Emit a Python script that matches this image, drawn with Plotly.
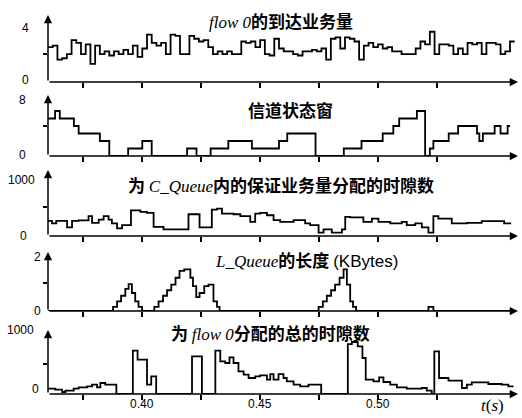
import plotly.graph_objects as go

W, H = 522, 418
X0, X1 = 0.36, 0.5594

# ---------------- data ----------------
# panel 1: flow 0 arrivals, uniform slots of 0.002 s starting at 0.360
arr_start = 0.360
arr_slot = 0.002
arrival = [2.5, 2.6, 1.6, 1.7, 2.0, 3.0, 2.8, 2.0, 2.7, 1.3, 2.6, 2.0, 2.2, 1.9, 2.2, 2.0, 2.3,
           2.0, 2.6, 1.8, 2.4, 3.4, 2.8, 2.6, 2.8, 2.0, 3.4, 3.3, 2.0, 2.0, 3.3, 3.1, 2.9, 3.0,
           2.5, 2.0, 2.2, 2.0, 2.2, 2.0, 2.0, 2.9, 2.8, 2.9, 2.5, 3.0, 2.0, 1.9, 3.1, 2.4,
           2.2, 2.2, 2.0, 1.9, 2.2, 2.2, 2.3, 2.2, 2.4, 1.6, 3.1, 3.2, 2.4, 3.2, 3.1, 2.9, 1.6,
           2.6, 2.8, 2.5, 2.7, 2.4, 2.5, 2.2, 2.2, 2.0, 2.0, 2.0, 2.4, 2.9, 2.7, 3.6, 2.0, 2.7,
           2.7, 2.6, 2.0, 2.4, 2.0, 2.8, 2.7, 2.8, 2.0, 2.8, 2.8, 2.7, 2.0, 2.2, 2.9]

# panel 2: channel state window (step start times, last entry = end time)
chan_t = [0.360, 0.363, 0.365, 0.371, 0.373, 0.382, 0.386, 0.394, 0.400, 0.404,
          0.419, 0.423, 0.429, 0.4365, 0.4465, 0.458, 0.4615, 0.4735, 0.4855, 0.493,
          0.502, 0.5065, 0.509, 0.5165, 0.520, 0.522, 0.5235, 0.530, 0.534, 0.542,
          0.543, 0.5445, 0.5495, 0.552, 0.555, 0.556]
chan_v = [5, 6, 5, 4, 3, 2, 0, 1, 2, 0,
          1, 0, 1, 2, 1, 2, 3, 0, 1, 2,
          3, 4, 5, 6, 0, 1, 2, 3, 4, 3,
          2, 3, 4, 3, 4]

# panel 3: slots allocated to guaranteed traffic in C_Queue
cq_t = [0.360, 0.3617, 0.3635, 0.3681, 0.3702, 0.373, 0.3772, 0.3787, 0.3815, 0.3836,
        0.3857, 0.3871, 0.3893, 0.3914, 0.3952, 0.3992, 0.4020, 0.4048, 0.4090, 0.4196,
        0.4243, 0.4295, 0.4317, 0.4338, 0.4387, 0.4416, 0.4458, 0.4479, 0.4500, 0.4529,
        0.4557, 0.4585, 0.4642, 0.4691, 0.4712, 0.4748, 0.4769, 0.4804, 0.4847, 0.4861,
        0.4882, 0.4938, 0.4974, 0.5002, 0.5052, 0.5101, 0.5122, 0.5158, 0.5186, 0.5214,
        0.5235, 0.5256, 0.5313, 0.5377, 0.5440, 0.5535, 0.5565]
cq_v = [261, 216, 261, 148, 261, 270, 341, 227, 284, 341,
        284, 216, 131, 188, 443, 415, 398, 159, 114, 375,
        148, 455, 472, 387, 375, 341, 244, 387, 398, 358,
        273, 244, 273, 216, 188, 58, 114, 58, 114, 330,
        320, 244, 301, 244, 216, 244, 188, 216, 148, 58,
        341, 301, 216, 227, 256, 216]

# panel 4: L_Queue length (KBytes)
lq_t = [0.360, 0.3876, 0.3893, 0.3910, 0.3928, 0.3942, 0.3956, 0.3970, 0.3984, 0.3999,
        0.4051, 0.4069, 0.4088, 0.4105, 0.4123, 0.4141, 0.4158, 0.4178, 0.4204, 0.4215,
        0.4229, 0.4243, 0.4263, 0.4281, 0.4302, 0.4317, 0.4328, 0.4748, 0.4766, 0.4783,
        0.4801, 0.4818, 0.4837, 0.4854, 0.4868, 0.4882, 0.4894, 0.4907, 0.5214, 0.5235,
        0.556]
lq_v = [0, 0.15, 0.35, 0.55, 0.8, 0.97, 0.65, 0.35, 0.15, 0,
        0.15, 0.35, 0.55, 0.75, 0.95, 1.2, 1.45, 1.5, 1.2, 0.9,
        0.5, 0.65, 0.9, 0.95, 0.35, 0.15, 0, 0.15, 0.35, 0.55,
        0.75, 0.95, 1.2, 1.5, 0.95, 0.35, 0.15, 0, 0.15, 0]

# panel 5: total slots allocated to flow 0
tot_t = [0.360, 0.3631, 0.3660, 0.3674, 0.3709, 0.3730, 0.3766, 0.3787, 0.3808, 0.3822,
         0.3843, 0.3890, 0.3960, 0.3980, 0.4020, 0.4038, 0.4059, 0.4211, 0.4253, 0.4310,
         0.4331, 0.4352, 0.4370, 0.4387, 0.4408, 0.4430, 0.4451, 0.4479, 0.4500, 0.4529,
         0.4543, 0.4557, 0.4578, 0.4599, 0.4613, 0.4642, 0.4670, 0.4705, 0.4759, 0.4872,
         0.4889, 0.4914, 0.4934, 0.4948, 0.4981, 0.5005, 0.5023, 0.5052, 0.5080, 0.5122,
         0.5186, 0.5207, 0.5228, 0.5239, 0.5259, 0.5299, 0.5356, 0.5377, 0.5398, 0.5468,
         0.5525, 0.5553, 0.5575]
tot_v = [89, 72, 33, 56, 89, 111, 128, 156, 111, 183,
         156, 0, 722, 572, 156, 294, 0, 628, 0, 722,
         544, 517, 611, 517, 378, 322, 267, 294, 311, 239,
         333, 239, 333, 267, 211, 156, 128, 156, 0, 833,
         867, 794, 600, 239, 211, 278, 200, 156, 111, 89,
         100, 56, 0, 711, 267, 222, 100, 156, 194, 167,
         156, 128]

x_tick_vals = [0.375, 0.40, 0.425, 0.45, 0.475, 0.50, 0.525]
x_label_vals = [0.40, 0.45, 0.50]
x_label_text = ["0.40", "0.45", "0.50"]

y_top_vals = [4, 8, 1000, 2, 1000]
y_top_text = ["4", "8", "1000", "2", "1000"]
y_mid_vals = [2, 4, 500, 1, 500]

SERIF = "Liberation Serif"
CJK = "Noto Sans CJK SC"
titles = [
    "<span style='font-family:%s'><i>flow 0</i></span><b>的到达业务量</b>" % SERIF,
    "<b>信道状态窗</b>",
    "<b>为</b> <span style='font-family:%s'><i>C_Queue</i></span><b>内的保证业务量分配的时隙数</b>" % SERIF,
    "<span style='font-family:%s'><i>L_Queue</i></span><b>的长度</b> <span style='font-family:Liberation Sans'>(KBytes)</span>" % SERIF,
    "<b>为</b> <span style='font-family:%s'><i>flow 0</i></span><b>分配的总的时隙数</b>" % SERIF,
]

# ---------------- layout geometry (pixels) ----------------
XL, XR = 48, 518
panel_px = [(15, 82), (95, 156), (170, 236), (252, 311), (330, 394)]   # (top, zero) pixel rows
y_tops = [4.8, 8.13, 1138, 2.13, 1067]
title_pos = [(281, 21), (290, 110), (281, 185), (306, 259), (270, 332)]
top_lab_pos = [(25, 28), (22, 100), (21, 180), (37, 257), (20, 330)]
zero_lab_pos = [(25, 80), (22, 155), (23, 236), (37, 311), (35, 389)]


def px(x):
    return x / W


def py(y):
    return 1 - y / H


def steps(t, v):
    return list(t), list(v) + [v[-1]]


arr_t = [arr_start + arr_slot * i for i in range(len(arrival) + 1)]
series = [(arr_t, arrival), (chan_t, chan_v), (cq_t, cq_v), (lq_t, lq_v), (tot_t, tot_v)]

fig = go.Figure()
annotations = []
layout = dict(
    width=W, height=H, margin=dict(l=0, r=0, t=0, b=0),
    paper_bgcolor="white", plot_bgcolor="white", showlegend=False,
    font=dict(family=CJK, color="black"),
)

for i, ((t, v), (ptop, pzero)) in enumerate(zip(series, panel_px)):
    n = i + 1
    xs, ys = steps(t, v)
    fig.add_trace(go.Scatter(
        x=xs, y=ys, mode="lines", line=dict(color="black", width=1.8, shape="hv"),
        xaxis="x%d" % n, yaxis="y%d" % n, hoverinfo="skip"))
    layout["xaxis%d" % n] = dict(
        domain=[px(XL), px(XR)], range=[X0, X1], anchor="y%d" % n,
        tickvals=x_tick_vals, ticks="outside", ticklen=5, tickwidth=1.5, tickcolor="black",
        showticklabels=False, showgrid=False, zeroline=False, showline=False)
    layout["yaxis%d" % n] = dict(
        domain=[py(pzero), py(ptop)], range=[0, y_tops[i]], anchor="x%d" % n,
        tickvals=[y_mid_vals[i]], ticks="outside", ticklen=4, tickwidth=1.5, tickcolor="black",
        showticklabels=False, showgrid=False, zeroline=False, showline=False)
    # x axis with arrow
    annotations.append(dict(
        x=px(XR), y=py(pzero), xref="paper", yref="paper", text="", showarrow=True,
        ax=-(XR - XL), ay=0, arrowhead=2, arrowsize=1.1, arrowwidth=1.5, arrowcolor="black"))
    # y axis with arrow
    annotations.append(dict(
        x=px(XL), y=py(ptop), xref="paper", yref="paper", text="", showarrow=True,
        ax=0, ay=(pzero - ptop), arrowhead=2, arrowsize=1.1, arrowwidth=1.5, arrowcolor="black"))
    # titles
    annotations.append(dict(
        x=px(title_pos[i][0]), y=py(title_pos[i][1]), xref="paper", yref="paper",
        text=titles[i], showarrow=False, xanchor="center", yanchor="middle",
        font=dict(family=CJK, size=17, color="black")))
    # y labels
    annotations.append(dict(
        x=px(top_lab_pos[i][0]), y=py(top_lab_pos[i][1]), xref="paper", yref="paper",
        text=y_top_text[i], showarrow=False, xanchor="center", yanchor="middle",
        font=dict(family="Liberation Sans", size=12, color="black")))
    annotations.append(dict(
        x=px(zero_lab_pos[i][0]), y=py(zero_lab_pos[i][1]), xref="paper", yref="paper",
        text="0", showarrow=False, xanchor="center", yanchor="middle",
        font=dict(family="Liberation Sans", size=12, color="black")))

for val, txt in zip(x_label_vals, x_label_text):
    annotations.append(dict(
        x=val, y=py(404), xref="x5", yref="paper", text=txt, showarrow=False,
        xanchor="center", yanchor="middle",
        font=dict(family="Liberation Sans", size=12, color="black")))

annotations.append(dict(
    x=px(492), y=py(405), xref="paper", yref="paper",
    text="<i>t</i>(<i>s</i>)", showarrow=False, xanchor="center", yanchor="middle",
    font=dict(family=SERIF, size=17, color="black")))

layout["annotations"] = annotations
fig.update_layout(**layout)
fig.write_html("out.html", config={"displayModeBar": False},
               post_script="document.body.style.margin='0px';")
